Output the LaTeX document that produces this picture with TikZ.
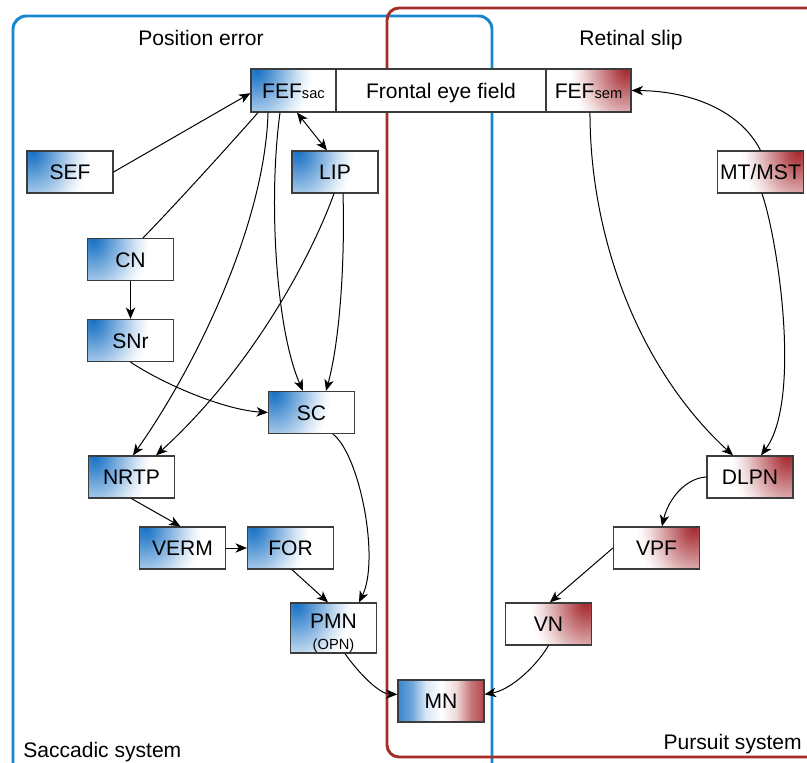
\documentclass[tikz,border=0pt]{standalone}
\usepackage{fontspec}
\setmainfont{Liberation Sans}
\usetikzlibrary{arrows.meta}
\definecolor{bdeep}{RGB}{22,112,196}
\definecolor{rdeep}{RGB}{165,40,46}
\definecolor{bframe}{RGB}{22,135,205}
\definecolor{rframe}{RGB}{165,45,40}
\definecolor{edgegray}{RGB}{60,60,60}
\colorlet{bA}{bdeep!85!white}\colorlet{bB}{bdeep!62!white}\colorlet{bC}{bdeep!40!white}
\colorlet{bD}{bdeep!18!white}\colorlet{bE}{bdeep!4!white}
\colorlet{rA}{rdeep!85!white}\colorlet{rB}{rdeep!62!white}\colorlet{rC}{rdeep!40!white}
\colorlet{rD}{rdeep!18!white}\colorlet{rE}{rdeep!4!white}
\pgfdeclareradialshading{bfade}{\pgfpointorigin}{color(0bp)=(bdeep); color(2.8bp)=(bA); color(6.4bp)=(bB); color(9.9bp)=(bC); color(13.4bp)=(bD); color(16.3bp)=(bE); color(17.7bp)=(white); color(50bp)=(white)}
\pgfdeclareradialshading{rfade}{\pgfpointorigin}{color(0bp)=(rdeep); color(2.8bp)=(rA); color(6.4bp)=(rB); color(9.9bp)=(rC); color(13.4bp)=(rD); color(16.3bp)=(rE); color(17.7bp)=(white); color(50bp)=(white)}
\pgfdeclarehorizontalshading{mnfade}{100bp}{color(0bp)=(bdeep); color(25bp)=(bA); color(33bp)=(bB); color(41bp)=(bD); color(50bp)=(white); color(59bp)=(rD); color(67bp)=(rB); color(75bp)=(rA); color(100bp)=(rdeep)}
\newcommand{\nodefont}{\fontsize{15.8}{18}\selectfont}
\newcommand{\smallfont}{\fontsize{11}{13}\selectfont}
\tikzset{
  box/.style={draw=edgegray, line width=0.9pt, fill=white, minimum width=64.5pt,
    minimum height=31.5pt, inner sep=0pt, font=\nodefont, text height=11.4pt, text depth=0pt},
  bbox/.style={box, path picture={\shade[shading=bfade] (path picture bounding box.north west) ellipse [x radius=56pt, y radius=78pt];}},
  rbox/.style={box, path picture={\shade[shading=rfade] (path picture bounding box.north east) ellipse [x radius=56pt, y radius=78pt];}},
  mnbox/.style={box, shading=mnfade, shade},
  arr/.style={-{Stealth[length=8.5pt,width=7pt,inset=2.4pt]}, line width=0.75pt},
  dblarr/.style={{Stealth[length=8.5pt,width=7pt,inset=2.4pt]}-{Stealth[length=8.5pt,width=7pt,inset=2.4pt]}, line width=0.75pt},
  plain/.style={line width=0.75pt},
  frameb/.style={draw=bframe, line width=2.2pt, rounded corners=10pt},
  framer/.style={draw=rframe, line width=2.2pt, rounded corners=9pt},
  title/.style={font=\nodefont, anchor=base, inner sep=0pt}
}
\begin{document}
\begin{tikzpicture}[x=0.75pt, y=-0.75pt]
\useasboundingbox (0,0) rectangle (807,763);
% frames
\draw[frameb] (13,16) rectangle (492,780);
\draw[framer] (387,8) rectangle (830,757);
% titles
\node[title] (tpos) at (201,46) {Position error};
\node[title] (tret) at (631,46) {Retinal slip};
\node[title, anchor=base west] (tsac) at (23,757) {Saccadic system};
\node[title, anchor=base east] (tpur) at (802,749) {Pursuit system};
% FEF bar
\node[bbox, minimum width=63.75pt, minimum height=32.25pt] (fefsac) at (293.5,90.5) {FEF{\smallfont sac}};
\node[box, minimum width=157.5pt, minimum height=32.25pt] (fefmid) at (441,90.5) {Frontal eye field};
\node[rbox, minimum width=63.75pt, minimum height=32.25pt] (fefsem) at (588.5,90.5) {FEF{\smallfont sem}};
% nodes
\node[bbox] (sef) at (70,172) {SEF};
\node[bbox] (lip) at (335,172) {LIP};
\node[rbox] (mt) at (760.5,172) {MT/MST};
\node[bbox] (cn) at (130.5,259.5) {CN};
\node[bbox] (snr) at (130.5,340.5) {SNr};
\node[bbox] (sc) at (311.5,412.5) {SC};
\node[bbox] (nrtp) at (131.5,477) {NRTP};
\node[rbox] (dlpn) at (750,477) {DLPN};
\node[bbox] (verm) at (182.5,548) {VERM};
\node[bbox] (for) at (290.5,548) {FOR};
\node[rbox] (vpf) at (656.5,548) {VPF};
\node[bbox, minimum height=37.5pt] (pmn) at (333.5,628) {};
\node[font=\nodefont, anchor=base, inner sep=0pt] (pmntxt) at (333.5,628) {PMN};
\node[font=\smallfont, anchor=base, inner sep=0pt] (opntxt) at (333.5,649) {(OPN)};
\node[rbox] (vn) at (548.5,624) {VN};
\node[mnbox] (mn) at (441,701) {MN};
% connectors
\draw[arr] (sef.east) -- ([yshift=-2pt]fefsac.west);
\draw[dblarr] ([xshift=2.6pt]fefsac.south) -- ([xshift=-6pt]lip.north);
\draw[plain] ([xshift=-26.6pt]fefsac.south) .. controls (225,150) and (175,205) .. ([xshift=9.4pt]cn.north);
\draw[arr] ([xshift=-19.1pt]fefsac.south) .. controls (265,220) and (200,360) .. ([xshift=1.1pt]nrtp.north);
\draw[arr] ([xshift=-10.1pt]fefsac.south) .. controls (268,200) and (276,330) .. ([xshift=-6.4pt]sc.north);
\draw[arr] ([xshift=6pt]lip.south) .. controls (345,260) and (340,340) .. ([xshift=10.9pt]sc.north);
\draw[arr] ([xshift=-0.75pt]lip.south) .. controls (310,260) and (250,370) .. ([xshift=18.4pt]nrtp.north);
\draw[arr] (cn.south) -- (snr.north);
\draw[arr] (snr.south) .. controls (165,385) and (225,410) .. (sc.west);
\draw[arr] ([xshift=16.1pt]sc.south) .. controls (360,455) and (380,560) .. ([xshift=19.1pt]pmn.north);
\draw[arr] (nrtp.south) -- ([xshift=-1.5pt]verm.north);
\draw[arr] (verm.east) -- (for.west);
\draw[arr] ([xshift=1.1pt]for.south) -- ([xshift=-4.1pt]pmn.north);
\draw[arr] ([xshift=8.6pt]pmn.south) .. controls (360,675) and (380,694) .. ([yshift=5pt]mn.west);
\draw[arr] (vn.south) .. controls (535,668) and (510,690) .. ([yshift=5pt]mn.east);
\draw[arr] (vpf.west) -- ([xshift=1pt]vn.north);
\draw[arr] (dlpn.west) .. controls (685,478) and (668,500) .. ([xshift=4.1pt]vpf.north);
\draw[arr] ([xshift=1.1pt]fefsem.south) .. controls (590,240) and (640,370) .. ([xshift=-12.75pt]dlpn.north);
\draw[arr] ([xshift=1.1pt]mt.south) .. controls (778,240) and (802,400) .. ([xshift=8.25pt]dlpn.north);
\draw[arr] (mt.north) .. controls (740,110) and (690,91) .. (fefsem.east);
\end{tikzpicture}
\end{document}
